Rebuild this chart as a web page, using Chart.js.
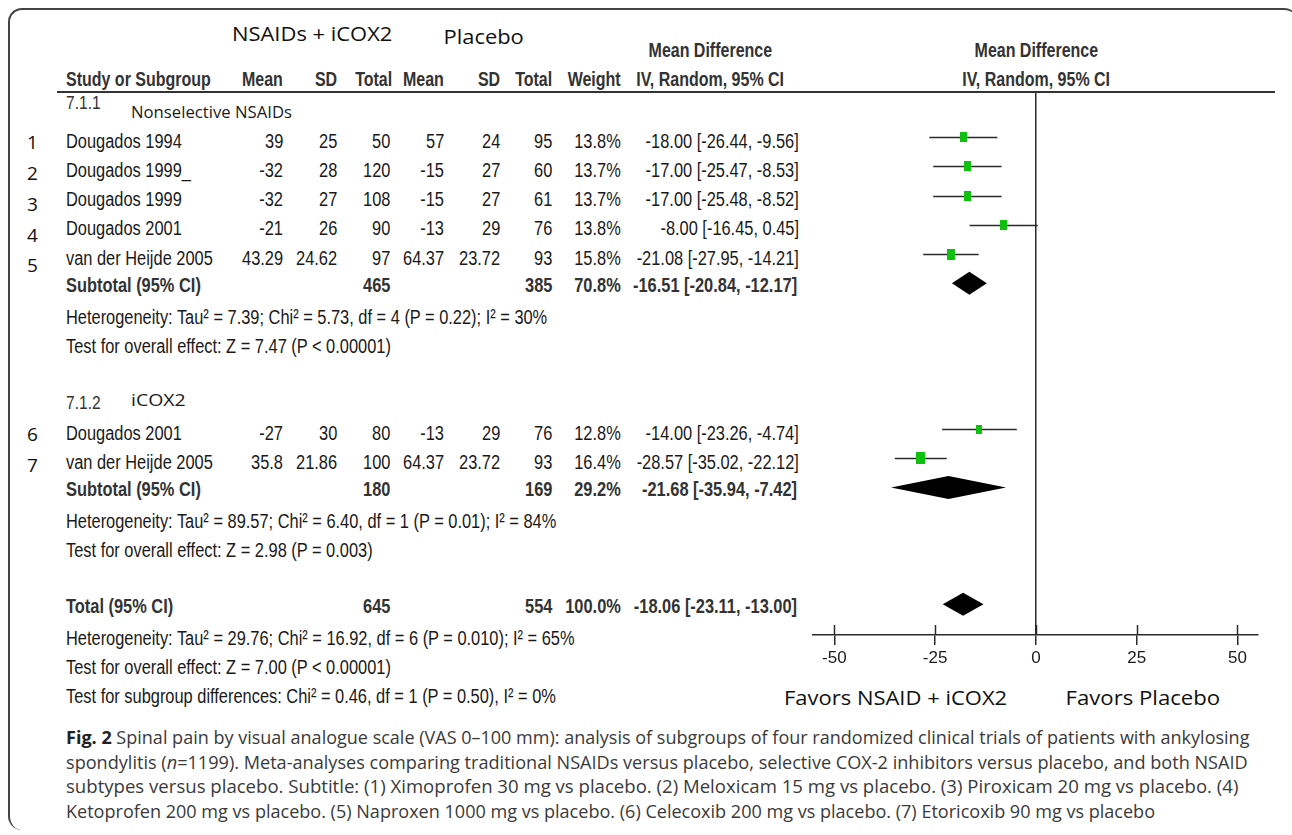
<!DOCTYPE html>
<html><head><meta charset="utf-8">
<script src="https://cdn.jsdelivr.net/npm/chart.js@4.4.0/dist/chart.umd.min.js"></script>
<style>
html,body{margin:0;padding:0;background:#fff;width:1292px;height:835px;overflow:hidden;}
#frame{position:absolute;left:8px;top:8px;width:1290px;height:822px;border-left:2px solid #444;border-top:2px solid #444;border-radius:14px 14px 0 14px;box-sizing:border-box;}
#chartWrap{position:absolute;left:780px;top:0;width:512px;height:720px;}
.t{position:absolute;white-space:nowrap;line-height:1;}
#hline{position:absolute;left:57px;top:91px;width:1218px;height:2px;background:#333;}
</style></head><body>
<div id="frame"></div>
<div id="hline"></div>
<div id="layer"></div>
<div id="chartWrap"><canvas id="c" width="512" height="720"></canvas></div>
<script>
// ---------------- DATA ----------------
const studyNames = ['Dougados 1994','Dougados 1999_','Dougados 1999','Dougados 2001','van der Heijde 2005','Dougados 2001','van der Heijde 2005'];
const studyGroup = [0,0,0,0,0,1,1];
const expMean = [39,-32,-32,-21,43.29,-27,35.8];
const expSD   = [25,28,27,26,24.62,30,21.86];
const expN    = [50,120,108,90,97,80,100];
const plcMean = [57,-15,-15,-13,64.37,-13,64.37];
const plcSD   = [24,27,27,29,23.72,29,23.72];
const plcN    = [95,60,61,76,93,76,93];
const weights = [13.8,13.7,13.7,13.8,15.8,12.8,16.4];
const meanDiff = [-18.00,-17.00,-17.00,-8.00,-21.08,-14.00,-28.57];
const ciLow    = [-26.44,-25.47,-25.48,-16.45,-27.95,-23.26,-35.02];
const ciHigh   = [-9.56,-8.53,-8.52,0.45,-14.21,-4.74,-22.12];

const groupCodes = ['7.1.1','7.1.2'];
const groupNames = ['Nonselective NSAIDs','iCOX2'];
const summaryLabels = ['Subtotal (95% CI)','Subtotal (95% CI)','Total (95% CI)'];
const summaryExpN = [465,180,645];
const summaryPlcN = [385,169,554];
const summaryWeight = [70.8,29.2,100.0];
const summaryMD  = [-16.51,-21.68,-18.06];
const summaryLow = [-20.84,-35.94,-23.11];
const summaryHigh= [-12.17,-7.42,-13.00];
const summaryStats = [
  ['Heterogeneity: Tau² = 7.39; Chi² = 5.73, df = 4 (P = 0.22); I² = 30%','Test for overall effect: Z = 7.47 (P < 0.00001)'],
  ['Heterogeneity: Tau² = 89.57; Chi² = 6.40, df = 1 (P = 0.01); I² = 84%','Test for overall effect: Z = 2.98 (P = 0.003)'],
  ['Heterogeneity: Tau² = 29.76; Chi² = 16.92, df = 6 (P = 0.010); I² = 65%','Test for overall effect: Z = 7.00 (P < 0.00001)','Test for subgroup differences: Chi² = 0.46, df = 1 (P = 0.50), I² = 0%']
];
const xTicks = [-50,-25,0,25,50];
const favorLabels = ['Favors NSAID + iCOX2','Favors Placebo'];
const captionLines = [
  '<b style="color:#222">Fig. 2</b> Spinal pain by visual analogue scale (VAS 0–100 mm): analysis of subgroups of four randomized clinical trials of patients with ankylosing',
  'spondylitis (<i>n</i>=1199). Meta-analyses comparing traditional NSAIDs versus placebo, selective COX-2 inhibitors versus placebo, and both NSAID',
  'subtypes versus placebo. Subtitle: (1) Ximoprofen 30 mg vs placebo. (2) Meloxicam 15 mg vs placebo. (3) Piroxicam 20 mg vs placebo. (4)',
  'Ketoprofen 200 mg vs placebo. (5) Naproxen 1000 mg vs placebo. (6) Celecoxib 200 mg vs placebo. (7) Etoricoxib 90 mg vs placebo'
];

// ---------------- ROW SEQUENCE (derived from structure) ----------------
const studyRow = [], summaryRow = [], groupRow = [], statRows = [];
let r = 0;
groupCodes.forEach((g, gi) => {
  groupRow.push(r++);
  studyGroup.forEach((sg, k) => { if (sg === gi) studyRow[k] = r++; });
  summaryRow.push(r++);
  statRows.push(summaryStats[gi].map(() => r++));
  r++; // blank
});
summaryRow.push(r++);
statRows.push(summaryStats[2].map(() => r++));

// ---------------- CHART ----------------
function markerCanvas(w) {
  const h = Math.round(w * 0.72), wd = Math.round(h * 0.72);
  const c = document.createElement('canvas');
  c.width = wd; c.height = h;
  const g = c.getContext('2d');
  g.fillStyle = '#0dc10d'; g.fillRect(0, 0, wd, h);
  return c;
}
const markers = weights.map(markerCanvas);

const forestPlugin = {
  id: 'forest',
  beforeDatasetsDraw(chart) {
    const {ctx, scales: {x, y}} = chart;
    ctx.save();
    ctx.strokeStyle = '#2a2a2a'; ctx.lineWidth = 1.6;
    studyNames.forEach((s, k) => {
      const py = Math.round(y.getPixelForValue(studyRow[k])) + 0.5;
      ctx.beginPath();
      ctx.moveTo(x.getPixelForValue(ciLow[k]), py);
      ctx.lineTo(x.getPixelForValue(ciHigh[k]), py);
      ctx.stroke();
    });
    ctx.fillStyle = '#000';
    summaryMD.forEach((m, k) => {
      const py = y.getPixelForValue(summaryRow[k]);
      const hh = 11.5;
      ctx.beginPath();
      ctx.moveTo(x.getPixelForValue(summaryLow[k]), py);
      ctx.lineTo(x.getPixelForValue(m), py - hh);
      ctx.lineTo(x.getPixelForValue(summaryHigh[k]), py);
      ctx.lineTo(x.getPixelForValue(m), py + hh);
      ctx.closePath();
      ctx.fill();
    });
    ctx.restore();
  },
  afterDraw(chart) {
    const {ctx, scales: {x}, chartArea} = chart;
    ctx.save();
    ctx.strokeStyle = '#2a2a2a'; ctx.lineWidth = 1.5;
    x.ticks.forEach(t => {
      const px = Math.round(x.getPixelForValue(t.value)) + 0.5;
      ctx.beginPath(); ctx.moveTo(px, chartArea.bottom - 10); ctx.lineTo(px, chartArea.bottom); ctx.stroke();
    });
    ctx.restore();
  }
};

const chart = new Chart(document.getElementById('c'), {
  type: 'scatter',
  data: {
    datasets: [{
      data: studyNames.map((s, k) => ({x: meanDiff[k], y: studyRow[k]})),
      pointStyle: ctx => markers[ctx.dataIndex],
      pointRadius: 6,
      showLine: false
    }]
  },
  options: {
    responsive: false, animation: false, devicePixelRatio: 1,
    layout: {padding: {left: 33, right: 34, top: 92, bottom: 0}},
    plugins: {legend: {display: false}, tooltip: {enabled: false}},
    scales: {
      x: {
        type: 'linear', min: -55.3, max: 55.1, position: 'bottom',
        afterBuildTicks: s => { s.ticks = xTicks.map(v => ({value: v})); },
        afterFit: s => { s.height = 85; },
        border: {display: true, color: '#2a2a2a', width: 1.6},
        grid: {
          color: c => (c.tick && c.tick.value === 0) ? '#2a2a2a' : 'rgba(0,0,0,0)',
          lineWidth: 1.5, tickColor: '#2a2a2a', tickLength: 10, drawTicks: true
        },
        ticks: {font: {family: '"Liberation Sans", Arial, sans-serif', size: 17}, color: '#1a1a1a', padding: 3, maxRotation: 0}
      },
      y: {type: 'linear', display: false, reverse: true, min: -0.55, max: 18.05}
    }
  },
  plugins: [forestPlugin]
});

// ---------------- TEXT (HTML) ----------------
const NARROW = '"Liberation Sans", Arial, sans-serif';
const CAL = '"Open Sans", "Noto Sans", sans-serif';
const layer = document.getElementById('layer');
function put(text, x, y, o = {}) {
  const align = o.align || 'left', size = o.size || 20, font = o.font || NARROW;
  const s = document.createElement('span');
  s.className = 't';
  s.style.font = (o.bold ? 'bold ' : '') + size + 'px ' + font;
  s.style.color = o.color || '#1a1a1a';
  if (o.html) s.innerHTML = text; else s.textContent = text;
  layer.appendChild(s);
  const w = s.offsetWidth, h = s.offsetHeight;
  const sc = o.fit ? o.fit / w : (o.scale !== undefined ? o.scale : 0.82);
  const left = align === 'left' ? x : align === 'right' ? x - w : x - w / 2;
  s.style.left = left + 'px';
  s.style.top = (y - h / 2) + 'px';
  s.style.transformOrigin = align === 'left' ? 'left center' : align === 'right' ? 'right center' : 'center center';
  s.style.transform = 'scaleX(' + sc + ')';
}
const yS = chart.scales.y;
const Y = v => yS.getPixelForValue(v);
const fmt2 = v => v.toFixed(2);
const ci = (m, l, h) => fmt2(m) + ' [' + fmt2(l) + ', ' + fmt2(h) + ']';
const C = {expMean: 283, expSD: 337, expN: 390, plcMean: 444, plcSD: 500, plcN: 552, w: 621, ci: 799};
const HDR = '#333';

// top headers
put('NSAIDs + iCOX2', 312, 33, {align: 'center', font: CAL, size: 20, color: '#111', fit: 160});
put('Placebo', 483, 36, {align: 'center', font: CAL, size: 20, color: '#111', fit: 80});
put('Mean Difference', 710, 50, {align: 'center', bold: true, size: 19.5, color: HDR});
put('IV, Random, 95% CI', 710, 79, {align: 'center', bold: true, size: 19.5, color: HDR});
put('Mean Difference', 1036, 50, {align: 'center', bold: true, size: 19.5, color: HDR});
put('IV, Random, 95% CI', 1036, 79, {align: 'center', bold: true, size: 19.5, color: HDR});
put('Study or Subgroup', 66, 79, {bold: true, size: 19.5, color: HDR});
[['Mean', C.expMean], ['SD', C.expSD], ['Total', 392], ['Mean', C.plcMean], ['SD', C.plcSD], ['Total', C.plcN], ['Weight', C.w]]
  .forEach(([t, x]) => put(t, x, 79, {align: 'right', bold: true, size: 19.5, color: HDR}));

// group headers
const groupNameFit = [161, 55];
groupCodes.forEach((g, gi) => {
  const py = Y(groupRow[gi]);
  put(g, 66, py + (gi === 0 ? -5 : 3), {size: 19, color: '#333'});
  put(groupNames[gi], 131, py + (gi === 0 ? 3 : 0), {font: CAL, size: 17, color: '#1a1a1a', fit: groupNameFit[gi]});
});

// study rows
studyNames.forEach((s, k) => {
  const py = Y(studyRow[k]) + 4;
  const idxInGroup = studyRow[k] - groupRow[studyGroup[k]] - 1;
  put(String(k + 1), 27, py + 1 + idxInGroup * 1.6, {font: CAL, size: 19, scale: 1, color: '#111'});
  put(s, 66, py);
  put(String(expMean[k]), C.expMean, py, {align: 'right'});
  put(String(expSD[k]), C.expSD, py, {align: 'right'});
  put(String(expN[k]), C.expN, py, {align: 'right'});
  put(String(plcMean[k]), C.plcMean, py, {align: 'right'});
  put(String(plcSD[k]), C.plcSD, py, {align: 'right'});
  put(String(plcN[k]), C.plcN, py, {align: 'right'});
  put(weights[k].toFixed(1) + '%', C.w, py, {align: 'right'});
  put(ci(meanDiff[k], ciLow[k], ciHigh[k]), C.ci, py, {align: 'right'});
});

// summary rows
summaryLabels.forEach((lab, k) => {
  const py = Y(summaryRow[k]) + 2;
  const o = {bold: true, color: '#333'};
  put(lab, 66, py, o);
  put(String(summaryExpN[k]), C.expN, py, Object.assign({align: 'right'}, o));
  put(String(summaryPlcN[k]), C.plcN, py, Object.assign({align: 'right'}, o));
  put(summaryWeight[k].toFixed(1) + '%', C.w, py, Object.assign({align: 'right'}, o));
  put(ci(summaryMD[k], summaryLow[k], summaryHigh[k]), 797, py, Object.assign({align: 'right'}, o));
  summaryStats[k].forEach((t, j) => put(t, 66, Y(statRows[k][j]) + 5, {size: 20}));
});

// favors labels
put(favorLabels[0], 895, 697, {align: 'center', font: CAL, size: 20, color: '#111', fit: 223});
put(favorLabels[1], 1143, 697, {align: 'center', font: CAL, size: 20, color: '#111', fit: 155});

// caption
const capTargets = [1183, 1182, 1172, 1089];
captionLines.forEach((t, i) => put(t, 66, 737 + i * 24.5, {html: true, font: CAL, size: 18, color: '#3a3a3a', fit: capTargets[i]}));
</script>
</body></html>
